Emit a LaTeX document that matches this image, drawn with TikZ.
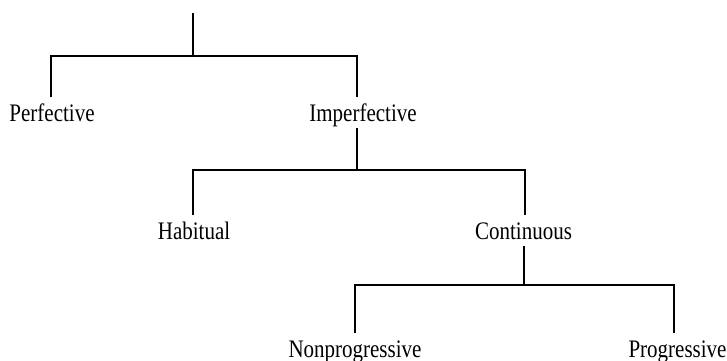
\documentclass[tikz,border=0pt]{standalone}
\usepackage{fontspec}
\setmainfont{Liberation Serif}
\newcommand{\tallword}[1]{\scalebox{1}[1.2]{#1}}
\begin{document}
\begin{tikzpicture}[x=0.5pt,y=-0.5pt,
  lbl/.style={anchor=base,inner xsep=0pt,inner ysep=3.2pt,text height=8.4pt,text depth=0pt,font=\fontsize{10.5}{12}\selectfont},
  branch/.style={line width=1pt,line cap=butt,line join=miter}]
\useasboundingbox (0,0) rectangle (727,360);
% labels
\node[lbl] (perf) at (52,121) {\tallword{Perfective}};
\node[lbl] (imperf) at (363,121) {\tallword{Imperfective}};
\node[lbl] (hab) at (194,239) {\tallword{Habitual}};
\node[lbl] (cont) at (523.5,239) {\tallword{Continuous}};
\node[lbl] (nonprog) at (355,357) {\tallword{Nonprogressive}};
\node[lbl] (prog) at (677.5,357) {\tallword{Progressive}};
% junction coordinates
\coordinate (root) at (193,13);
\coordinate (j1) at (193,56);
\coordinate (j1l) at (51,56);
\coordinate (j1r) at (357,56);
\coordinate (j2) at (357,170);
\coordinate (j2l) at (193,170);
\coordinate (j2r) at (525,170);
\coordinate (j3) at (524,285);
\coordinate (j3l) at (355,285);
\coordinate (j3r) at (674,285);
% tree 1
\draw[branch] (root) -- (j1);
\draw[branch] (j1l |- perf.north) -- (j1l) -- (j1r) -- (j1r |- imperf.north);
% tree 2
\draw[branch] (j2 |- imperf.south) -- (j2);
\draw[branch] (j2l |- hab.north) -- (j2l) -- (j2r) -- (j2r |- cont.north);
% tree 3
\draw[branch] (j3 |- cont.south) -- (j3);
\draw[branch] (j3l |- nonprog.north) -- (j3l) -- (j3r) -- (j3r |- prog.north);
\end{tikzpicture}
\end{document}
